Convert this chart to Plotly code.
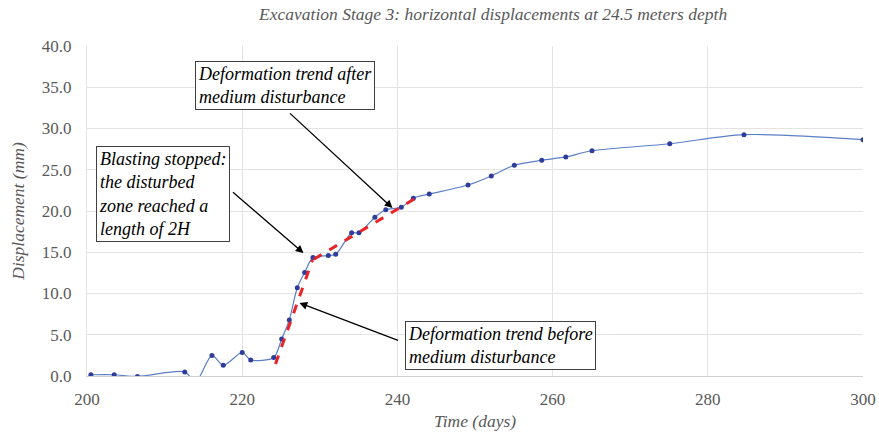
import plotly.graph_objects as go

days = [200.5, 203.5, 206.5, 212.6, 214.0, 216.1, 217.56, 220.0, 221.1, 224.06,
        225.09, 226.07, 227.1, 228.05, 229.12, 231.1, 232.05, 234.1, 235.05, 237.1,
        238.5, 240.5, 242.05, 244.1, 249.1, 252.1, 255.07, 258.6, 261.7, 265.08,
        275.1, 284.66, 300.0]
disp = [0.15, 0.15, -0.05, 0.5, -0.7, 2.5, 1.3, 2.85, 1.95, 2.25,
        4.5, 6.8, 10.7, 12.55, 14.35, 14.6, 14.75, 17.35, 17.35, 19.25,
        20.15, 20.45, 21.55, 22.05, 23.15, 24.25, 25.55, 26.15, 26.55, 27.3,
        28.15, 29.25, 28.65]

trend_before_x = [224.29, 229.06]
trend_before_y = [1.45, 14.06]
trend_after_x = [229.23, 243.04]
trend_after_y = [14.15, 21.94]

serif = "Liberation Serif"
grey_text = "#595959"

fig = go.Figure()
fig.add_trace(go.Scatter(x=days, y=disp, mode="lines+markers",
                         line=dict(color="#5B7FC7", width=1.2, shape="spline", smoothing=0.8),
                         marker=dict(color="#2E3D9C", size=5), showlegend=False))
fig.add_trace(go.Scatter(x=trend_before_x, y=trend_before_y, mode="lines",
                         line=dict(color="#E8232A", width=3, dash="dash"), showlegend=False))
fig.add_trace(go.Scatter(x=trend_after_x, y=trend_after_y, mode="lines",
                         line=dict(color="#E8232A", width=3, dash="dash"), showlegend=False))

# arrows (tail -> head), data coordinates
arrows = [((225.97, 32.0), (239.37, 20.36)),
          ((218.62, 22.42), (227.9, 14.9)),
          ((240.27, 4.24), (227.38, 8.85))]
for (tx, ty), (hx, hy) in arrows:
    fig.add_annotation(x=hx, y=hy, ax=tx, ay=ty, xref="x", yref="y", axref="x", ayref="y",
                       text="", showarrow=True, arrowhead=2, arrowsize=1.2, arrowwidth=1.3,
                       arrowcolor="black")

boxes = [(0.2552, 0.8803, "Deformation trend after<br>medium disturbance"),
         (0.0973, 0.553, "Blasting stopped:<br>the disturbed<br>zone reached a<br>length of 2H"),
         (0.5335, 0.0939, "Deformation trend before<br>medium disturbance")]
for bx, by, txt in boxes:
    fig.add_annotation(x=bx, y=by, xref="paper", yref="paper", text=txt, showarrow=False,
                       align="left", xanchor="center", yanchor="middle",
                       font=dict(family=serif, size=18, color="black", style="italic"),
                       bgcolor="white", bordercolor="#404040", borderwidth=1, borderpad=2)

fig.update_layout(
    width=879, height=435,
    margin=dict(l=87, r=16, t=46, b=59),
    paper_bgcolor="white", plot_bgcolor="white",
    title=dict(text="Excavation Stage 3: horizontal displacements at 24.5 meters depth",
               x=0.561, xanchor="center", y=0.968, yanchor="middle",
               font=dict(family=serif, size=17.5, color=grey_text, style="italic")),
    xaxis=dict(range=[200, 300], dtick=20, tick0=200, showgrid=True, gridcolor="#E3E3E3",
               zeroline=False, showline=True, linecolor="#D0D0D0", ticks="", automargin=False,
               ticklabelstandoff=8,
               tickfont=dict(family=serif, size=17, color=grey_text),
               title=dict(text="Time (days)", font=dict(family=serif, size=17.5, color=grey_text, style="italic"),
                          standoff=6)),
    yaxis=dict(range=[0, 40], dtick=5, tickformat=".1f", showgrid=True, gridcolor="#E3E3E3",
               zeroline=False, showline=True, linecolor="#E3E3E3", ticks="", automargin=False,
               ticklabelstandoff=11,
               tickfont=dict(family=serif, size=17, color=grey_text),
               title=dict(text="Displacement (mm)", font=dict(family=serif, size=17.5, color=grey_text, style="italic"),
                          standoff=12)),
)

fig.write_html("out.html")
